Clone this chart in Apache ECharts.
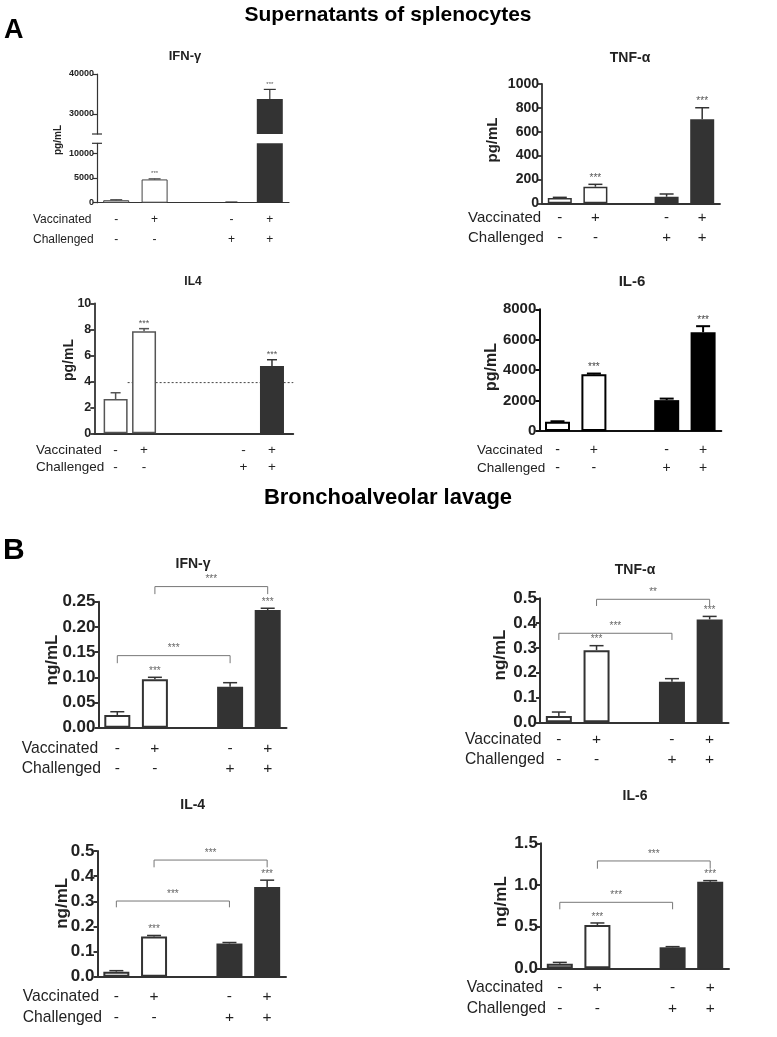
<!DOCTYPE html>
<html><head><meta charset="utf-8">
<script src="https://cdn.jsdelivr.net/npm/echarts@6/dist/echarts.min.js"></script>
<style>html,body{margin:0;padding:0;background:#fff}#c{width:777px;height:1037px}</style>
</head><body><div id="c"></div>
<script>
// ---------------- DATA ----------------
const groupCats = ['-\n-', '+\n-', '', '-\n+', '+\n+'];
// A: supernatants of splenocytes (pg/mL)
const ifngSplVals = [500, 4700, null, 100, 33750];
const ifngSplErr  = [100, 120, null, 40, 2400];
const ifngSplSig  = ['', '***', '', '', '***'];

const tnfSplVals = [45, 139, null, 55, 704];
const tnfSplErr  = [5, 20, null, 23, 97];
const tnfSplSig  = ['', '***', '', '', '***'];

const il4SplCats = ['', '-\n-', '', '+\n-', '', '', '', '', '', '', '-\n+', '', '+\n+', ''];
const il4SplVals = [null, 2.64, null, 7.85, null, null, null, null, null, null, null, null, 5.18, null];
const il4SplErr  = [null, 0.48, null, 0.2, null, null, null, null, null, null, null, null, 0.48, null];
const il4SplSig  = ['', '', '', '***', '', '', '', '', '', '', '', '', '***', ''];
const il4Threshold = 3.9;

const il6SplVals = [600, 3727, null, 2030, 6490];
const il6SplErr  = [40, 50, null, 100, 400];
const il6SplSig  = ['', '***', '', '', '***'];

// B: bronchoalveolar lavage (ng/mL)
const ifngBalVals = [0.0252, 0.096, null, 0.0813, 0.2335];
const ifngBalErr  = [0.0065, 0.004, null, 0.008, 0.0035];
const ifngBalSig  = ['', '***', '', '', '***'];
const ifngBalBrackets = [[0, 3, 0.143, 0.128], [1, 4, 0.28, 0.265]];
const ifngBalBracketSig = ['***', '***'];

const tnfBalVals = [0.0254, 0.291, null, 0.164, 0.415];
const tnfBalErr  = [0.016, 0.018, null, 0.012, 0.012];
const tnfBalSig  = ['', '***', '', '', '***'];
const tnfBalBrackets = [[0, 3, 0.359, 0.332], [1, 4, 0.496, 0.469]];
const tnfBalBracketSig = ['***', '**'];

const il4BalVals = [0.02, 0.16, null, 0.132, 0.357];
const il4BalErr  = [0.004, 0.004, null, 0.004, 0.027];
const il4BalSig  = ['', '***', '', '', '***'];
const il4BalBrackets = [[0, 3, 0.301, 0.276], [1, 4, 0.464, 0.435]];
const il4BalBracketSig = ['***', '***'];

const il6BalVals = [0.055, 0.52, null, 0.252, 1.04];
const il6BalErr  = [0.016, 0.024, null, 0.008, 0.012];
const il6BalSig  = ['', '***', '', '', '***'];
const il6BalBrackets = [[0, 3, 0.792, 0.708], [1, 4, 1.288, 1.195]];
const il6BalBracketSig = ['***', '***'];

// ---------------- CHART ----------------
const FONT = '"Liberation Sans", Arial, Helvetica, sans-serif';
const option = {animation:false, backgroundColor:'#fff', grid:[], xAxis:[], yAxis:[], series:[], graphic:[]};

function txt(s, x, y, fs, opts) {
  opts = opts || {};
  option.graphic.push({
    type:'text', x:x, y:y, rotation: opts.rot || 0, silent:true,
    style:{text:s, font:(opts.bold ? 'bold ' : '') + fs + 'px ' + FONT, fill: opts.color || '#222',
      textAlign: opts.align || 'left', align: opts.align || 'left',
      textVerticalAlign:'middle', verticalAlign:'middle'}
  });
}

function addPanel(p) {
  const gi = option.grid.length;
  option.grid.push({left:p.g[0], top:p.g[1], width:p.g[2], height:p.g[3]});
  const showX = p.showX !== false;
  option.xAxis.push({type:'category', gridIndex:gi, data:p.cats,
    axisLine:{show:showX, lineStyle:{color:p.axisColor, width:p.axisW}},
    axisTick:{show:false},
    axisLabel:{show:showX, interval:0, fontSize:p.xfs, lineHeight:p.xlh, margin:p.xm, color:'#222', fontFamily:FONT}
  });
  option.yAxis.push({type:'value', gridIndex:gi, min:p.min, max:p.max, interval:p.interval,
    axisLine:{show:true, lineStyle:{color:p.axisColor, width:p.axisW}},
    axisTick:{show:true, length:4, lineStyle:{color:p.axisColor, width:p.axisW}, customValues:p.tickVals},
    axisLabel:{fontSize:p.yfs, fontWeight:'bold', color:'#222', margin:3, fontFamily:FONT,
      formatter:p.fmt, customValues:p.labelVals},
    splitLine:{show:false}
  });
  const isDark = (i) => (p.cats[i] || '').split('\n')[1] === '+';
  option.series.push({type:'bar', xAxisIndex:gi, yAxisIndex:gi, barWidth:p.bw, clip:true, z:2,
    data:p.vals.map((v, i) => v == null ? null : {value:v,
      itemStyle: isDark(i) ? {color:p.dark, borderColor:p.dark, borderWidth:0}
                           : {color:'#fff', borderColor:p.edge, borderWidth:p.edgeW}})
  });
  // error bars + significance stars
  const eData = [];
  p.vals.forEach((v, i) => {
    if (v == null || p.errs[i] == null) return;
    if (p.errFilter && !p.errFilter(v, p.errs[i])) return;
    eData.push([i, v, p.errs[i]]);
  });
  option.series.push({type:'custom', xAxisIndex:gi, yAxisIndex:gi, z:4, clip:false, data:eData,
    renderItem:(params, api) => {
      const x = api.value(0), v = api.value(1), e = api.value(2);
      const p0 = api.coord([x, v]), p1 = api.coord([x, v + e]);
      const hw = p.cap / 2;
      const col = isDark(x) ? p.dark : p.edge;
      const ch = [];
      if (e > 0) {
        ch.push({type:'line', shape:{x1:p0[0], y1:p0[1], x2:p1[0], y2:p1[1]}, style:{stroke:col, lineWidth:p.errW}});
        ch.push({type:'line', shape:{x1:p1[0]-hw, y1:p1[1], x2:p1[0]+hw, y2:p1[1]}, style:{stroke:col, lineWidth:p.errW}});
      }
      const s = p.sig[x];
      if (s) ch.push({type:'text', style:{text:s, x:p1[0], y:p1[1] - p.starGap,
        textAlign:'center', align:'center', textVerticalAlign:'bottom', verticalAlign:'bottom',
        font:p.starFs + 'px ' + FONT, fill:p.starColor}});
      return {type:'group', children:ch};
    }
  });
  if (p.brackets) {
    option.series.push({type:'custom', xAxisIndex:gi, yAxisIndex:gi, z:4, clip:false, data:p.brackets,
      renderItem:(params, api) => {
        const a = api.value(0), b = api.value(1), yt = api.value(2), yl = api.value(3);
        const pa = api.coord([a, yt]), pb = api.coord([b, yt]), la = api.coord([a, yl]);
        return {type:'group', children:[
          {type:'polyline', shape:{points:[[pa[0], la[1]], pa, pb, [pb[0], la[1]]]},
            style:{stroke:'#777', lineWidth:1, fill:null}},
          {type:'text', style:{text:p.bracketSig[params.dataIndex], x:(pa[0]+pb[0])/2, y:pa[1]-2,
            textAlign:'center', align:'center', textVerticalAlign:'bottom', verticalAlign:'bottom',
            font:p.starFs + 'px ' + FONT, fill:p.starColor}}
        ]};
      }
    });
  }
  if (p.threshold != null) {
    option.series.push({type:'custom', xAxisIndex:gi, yAxisIndex:gi, z:1, clip:false,
      data:[[p.thresholdFrom, p.threshold]],
      renderItem:(params, api) => {
        const pt = api.coord([api.value(0), api.value(1)]);
        const x2 = params.coordSys.x + params.coordSys.width;
        return {type:'line', shape:{x1:pt[0] + p.bw/2, y1:pt[1], x2:x2, y2:pt[1]},
          style:{stroke:'#444', lineWidth:1, lineDash:[2, 2]}};
      }
    });
  }
  if (p.breakCap) {
    // short cap across the axis at the broken end of a split axis
    option.series.push({type:'custom', xAxisIndex:gi, yAxisIndex:gi, z:5, clip:false, data:[[0, 0]],
      renderItem:(params) => {
        const cs = params.coordSys;
        const y = p.breakCap === 'bottom' ? cs.y + cs.height : cs.y;
        return {type:'line', shape:{x1:cs.x - 5, y1:y, x2:cs.x + 5, y2:y},
          style:{stroke:p.axisColor, lineWidth:p.axisW}};
      }
    });
  }
  if (p.title) txt(p.title[0], p.title[1], p.title[2], p.title[3], {bold:true, align:'center'});
  if (p.unit) txt(p.unit[0], p.unit[1], p.unit[2], p.unit[3], {bold:true, align:'center', rot:Math.PI/2});
  if (p.rows) {
    txt('Vaccinated', p.rows[0], p.rows[1], p.rows[3]);
    txt('Challenged', p.rows[0], p.rows[2], p.rows[3]);
  }
}

const baseA = {axisColor:'#333', dark:'#333', starColor:'#555'};
const intFmt = v => String(v);

// A1 IFN-gamma (broken axis): upper part
addPanel(Object.assign({}, baseA, {
  g:[97, 74, 192, 60], cats:groupCats, vals:ifngSplVals, errs:ifngSplErr, sig:ifngSplSig,
  min:25000, max:40000, interval:5000, tickVals:[30000, 40000], labelVals:[30000, 40000], fmt:intFmt,
  showX:false, bw:26, axisW:1.2, yfs:9, xfs:12, xlh:20, xm:7.3, cap:12, errW:1.2, edge:'#444', edgeW:1,
  starFs:6, starGap:2, errFilter:(v) => v >= 25000, breakCap:'bottom',
  title:['IFN-γ', 185, 56, 13]
}));
// A1 lower part
addPanel(Object.assign({}, baseA, {
  g:[97, 143.3, 192, 59.4], cats:groupCats, vals:ifngSplVals, errs:ifngSplErr, sig:ifngSplSig,
  min:0, max:12000, interval:5000, tickVals:[0, 5000, 10000], labelVals:[0, 5000, 10000], fmt:intFmt,
  bw:26, axisW:1.2, yfs:9, xfs:12, xlh:20, xm:7.3, cap:12, errW:1.2, edge:'#444', edgeW:1,
  starFs:6, starGap:2, errFilter:(v, e) => v + e <= 12000, breakCap:'top',
  unit:['pg/mL', 58.3, 140, 10], rows:[33, 220, 240, 12]
}));
// A2 TNF-alpha
addPanel(Object.assign({}, baseA, {
  g:[542, 84, 178, 119.3], cats:groupCats, vals:tnfSplVals, errs:tnfSplErr, sig:tnfSplSig,
  min:0, max:1000, interval:200, fmt:intFmt,
  bw:24, axisW:1.8, yfs:14, xfs:15, xlh:20, xm:4.7, cap:14, errW:1.5, edge:'#333', edgeW:1.5,
  starFs:10, starGap:1,
  title:['TNF-α', 630, 58, 14], unit:['pg/mL', 493, 140, 15], rows:[468, 218, 238, 15]
}));
// A3 IL4
addPanel(Object.assign({}, baseA, {
  g:[94.3, 303.3, 199, 130], cats:il4SplCats, vals:il4SplVals, errs:il4SplErr, sig:il4SplSig,
  min:0, max:10, interval:2, fmt:intFmt,
  bw:24, axisW:1.8, yfs:12.5, xfs:13.5, xlh:17.7, xm:7.85, cap:10, errW:1.5, edge:'#555', edgeW:1.5,
  starFs:9, starGap:1, threshold:il4Threshold, thresholdFrom:1,
  title:['IL4', 193, 282, 12], unit:['pg/mL', 69, 360, 14], rows:[36, 450, 467.7, 13.5]
}));
// A4 IL-6
addPanel({
  axisColor:'#111', dark:'#000', starColor:'#444',
  g:[539.3, 309.3, 182, 121.7], cats:groupCats, vals:il6SplVals, errs:il6SplErr, sig:il6SplSig,
  min:0, max:8000, interval:2000, fmt:intFmt,
  bw:25, axisW:2, yfs:15, xfs:14, xlh:18, xm:10, cap:14, errW:2, edge:'#000', edgeW:2,
  starFs:10, starGap:1,
  title:['IL-6', 632, 282, 15], unit:['pg/mL', 492, 367, 16], rows:[477, 450, 468, 13.5]
});

const baseB = {axisColor:'#333', dark:'#333', starColor:'#666', bw:26, axisW:2, yfs:17, xfs:15.5, xlh:20,
  cap:14, errW:1.5, edge:'#333', edgeW:2, starFs:10, starGap:1};
// B1 IFN-gamma
addPanel(Object.assign({}, baseB, {
  g:[98.5, 601.7, 188, 126], cats:groupCats, vals:ifngBalVals, errs:ifngBalErr, sig:ifngBalSig,
  brackets:ifngBalBrackets, bracketSig:ifngBalBracketSig,
  min:0, max:0.25, interval:0.05, fmt:v => v.toFixed(2), xm:10.6,
  title:['IFN-γ', 193, 564, 14], unit:['ng/mL', 52, 660, 17], rows:[21.7, 748.3, 768.3, 15.7]
}));
// B2 TNF-alpha
addPanel(Object.assign({}, baseB, {
  g:[540, 598.3, 188.5, 124], cats:groupCats, vals:tnfBalVals, errs:tnfBalErr, sig:tnfBalSig,
  brackets:tnfBalBrackets, bracketSig:tnfBalBracketSig,
  min:0, max:0.5, interval:0.1, fmt:v => v.toFixed(1), xm:7,
  title:['TNF-α', 635, 570, 14], unit:['ng/mL', 500, 655, 17], rows:[465, 739.3, 759.3, 15.7]
}));
// B3 IL-4
addPanel(Object.assign({}, baseB, {
  g:[97.5, 851, 188.5, 125.7], cats:groupCats, vals:il4BalVals, errs:il4BalErr, sig:il4BalSig,
  brackets:il4BalBrackets, bracketSig:il4BalBracketSig,
  min:0, max:0.5, interval:0.1, fmt:v => v.toFixed(1), xm:9.5, xlh:21,
  title:['IL-4', 192.7, 805, 14], unit:['ng/mL', 62.3, 903.3, 17], rows:[22.7, 996.7, 1017.7, 15.7]
}));
// B4 IL-6
addPanel(Object.assign({}, baseB, {
  g:[541, 843.3, 188, 125], cats:groupCats, vals:il6BalVals, errs:il6BalErr, sig:il6BalSig,
  brackets:il6BalBrackets, bracketSig:il6BalBracketSig,
  min:0, max:1.5, interval:0.5, fmt:v => v.toFixed(1), xm:8.5, xlh:21,
  title:['IL-6', 635, 796, 14], unit:['ng/mL', 501.7, 901.7, 17], rows:[466.7, 987.3, 1008.3, 15.7]
}));

// figure headings
txt('Supernatants of splenocytes', 388, 15, 21, {bold:true, align:'center', color:'#000'});
txt('A', 4, 31, 27, {bold:true, color:'#000'});
txt('Bronchoalveolar lavage', 388, 498, 22, {bold:true, align:'center', color:'#000'});
txt('B', 3, 551, 30, {bold:true, color:'#000'});

const chart = echarts.init(document.getElementById('c'), null, {renderer:'canvas'});
chart.setOption(option);
</script>
</body></html>
